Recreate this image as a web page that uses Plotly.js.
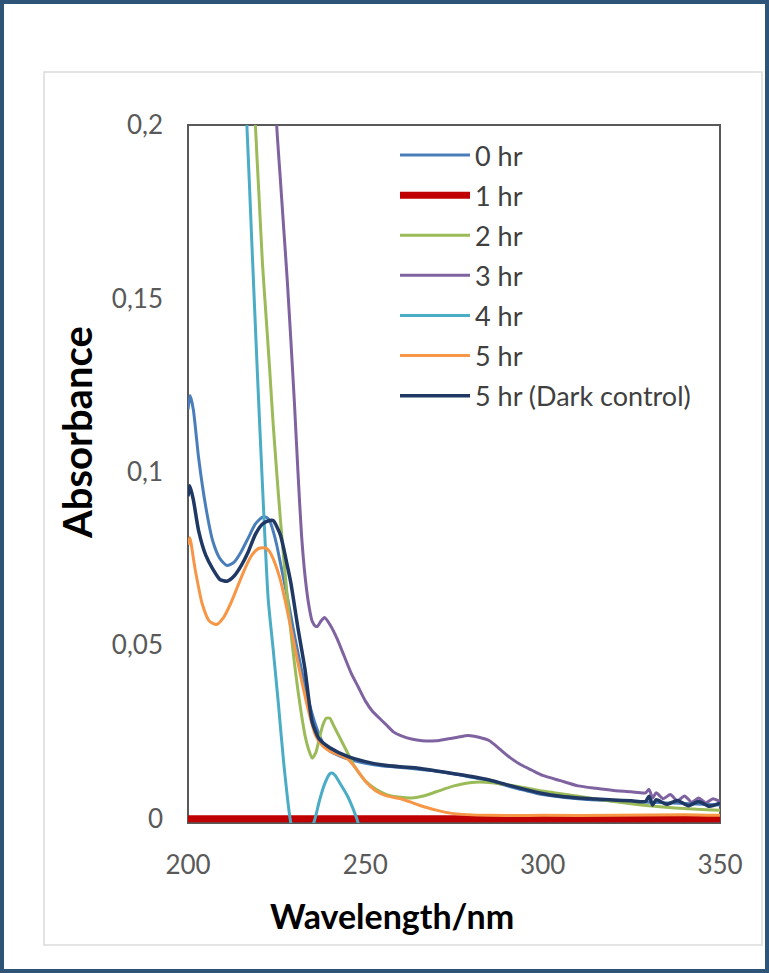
<!DOCTYPE html>
<html>
<head>
<meta charset="utf-8">
<script src="https://cdn.plot.ly/plotly-3.0.1.min.js"></script>
<style>
html,body{margin:0;padding:0;background:#fff;}
#chart{width:769px;height:973px;}
</style>
</head>
<body>
<div id="chart"></div>
<script>
// ---- data ----
const seriesNames = ["0 hr", "1 hr", "2 hr", "3 hr", "4 hr", "5 hr", "5 hr (Dark control)"];

const wl0 = [200, 200.6, 201.5, 203, 205, 207, 209, 211, 213, 215, 217, 219, 221, 222, 223, 224, 225, 226, 228, 230, 232, 234, 236, 238, 240, 243, 246, 250, 255, 260, 265, 270, 275, 280, 285, 290, 295, 300, 310, 320, 330, 340, 350];
const abs0 = [0.118, 0.122, 0.118, 0.104, 0.09, 0.08, 0.075, 0.073, 0.074, 0.077, 0.081, 0.085, 0.087, 0.087, 0.086, 0.083, 0.079, 0.074, 0.064, 0.053, 0.043, 0.034, 0.027, 0.022, 0.0195, 0.018, 0.017, 0.016, 0.0152, 0.0148, 0.0143, 0.0138, 0.013, 0.012, 0.011, 0.0095, 0.0082, 0.007, 0.0058, 0.0052, 0.0048, 0.0044, 0.004];

const wl1 = [200, 225, 250, 275, 300, 325, 350];
const abs1 = [0, 0, 0, 0, 0, 0, 0];

const wl2 = [216, 218, 219, 220, 221, 222, 223, 224, 225, 226, 227, 228, 229, 230, 231, 232, 233, 234, 235, 236, 237, 238, 239, 240, 241, 243, 245, 247, 250, 253, 256, 260, 263, 266, 270, 275, 280, 285, 290, 295, 300, 310, 320, 330, 340, 350];
const abs2 = [0.3, 0.23, 0.2, 0.18, 0.16, 0.145, 0.13, 0.114, 0.1, 0.087, 0.075, 0.064, 0.054, 0.045, 0.037, 0.03, 0.024, 0.02, 0.0175, 0.019, 0.023, 0.027, 0.029, 0.029, 0.027, 0.023, 0.019, 0.015, 0.011, 0.0085, 0.007, 0.0062, 0.006, 0.0065, 0.0078, 0.0095, 0.0105, 0.0105, 0.0098, 0.009, 0.008, 0.0065, 0.005, 0.0038, 0.003, 0.0025];

const wl3 = [222, 224, 225, 226, 227, 228, 229, 230, 231, 232, 233, 234, 235, 236, 236.5, 237.5, 238.5, 240, 242, 244, 246, 248, 250, 252, 254, 256, 258, 260, 263, 266, 270, 273, 276, 279, 282, 285, 288, 291, 294, 297, 300, 305, 310, 315, 320, 325, 329, 330, 331, 332, 334, 336, 338, 340, 342, 344, 346, 348, 350];
const abs3 = [0.3, 0.23, 0.2, 0.185, 0.17, 0.155, 0.138, 0.12, 0.1, 0.082, 0.07, 0.062, 0.057, 0.0555, 0.0555, 0.057, 0.058, 0.056, 0.052, 0.047, 0.042, 0.038, 0.034, 0.031, 0.029, 0.027, 0.025, 0.024, 0.023, 0.0225, 0.0225, 0.023, 0.0235, 0.024, 0.0235, 0.0225, 0.02, 0.0175, 0.0155, 0.014, 0.0125, 0.011, 0.0095, 0.0088, 0.0082, 0.0078, 0.0075, 0.0085, 0.006, 0.0075, 0.0058, 0.007, 0.0052, 0.0066, 0.0048, 0.006, 0.0046, 0.0058, 0.005];

const wl4 = [214, 216.6, 218, 219.5, 221, 222.6, 224, 225.5, 227, 228.8, 230, 232, 234, 235.8, 237, 238.5, 240, 240.6, 241.5, 243, 245, 246.5, 247.6, 249, 252, 260, 280, 300, 320, 350];
const abs4 = [0.25, 0.2, 0.166, 0.13, 0.096, 0.0635, 0.049, 0.033, 0.016, 0, -0.006, -0.008, -0.005, 0, 0.005, 0.01, 0.013, 0.0132, 0.0125, 0.01, 0.0065, 0.003, 0, -0.004, -0.006, -0.006, -0.006, -0.006, -0.006, -0.006];

const wl5 = [200, 200.5, 202, 204, 206, 208, 210, 212, 214, 216, 218, 220, 222, 223, 224, 226, 228, 230, 232, 234, 236, 238, 240, 243, 245, 247, 250, 253, 256, 260, 265, 270, 275, 285, 300, 320, 340, 350];
const abs5 = [0.079, 0.081, 0.072, 0.062, 0.057, 0.056, 0.058, 0.062, 0.067, 0.072, 0.076, 0.078, 0.078, 0.077, 0.075, 0.069, 0.06, 0.05, 0.04, 0.031, 0.024, 0.021, 0.0195, 0.0182, 0.0172, 0.015, 0.0108, 0.008, 0.0066, 0.0058, 0.004, 0.0025, 0.0015, 0.001, 0.001, 0.001, 0.0012, 0.001];

const wlD = [200, 200.5, 201.5, 203, 205, 207, 209, 211, 213, 215, 217, 219, 221, 223, 224, 226, 228, 229, 231, 233, 235, 237, 240, 245, 250, 255, 260, 265, 270, 275, 280, 285, 290, 295, 300, 305, 310, 315, 320, 325, 329, 330, 331, 332, 335, 338, 341, 344, 347, 350];
const absD = [0.093, 0.096, 0.092, 0.083, 0.076, 0.072, 0.069, 0.0685, 0.07, 0.073, 0.077, 0.082, 0.085, 0.086, 0.086, 0.082, 0.073, 0.068, 0.055, 0.043, 0.028, 0.023, 0.0205, 0.018, 0.0165, 0.0155, 0.015, 0.0146, 0.0138, 0.013, 0.0122, 0.0112, 0.0098, 0.0085, 0.0073, 0.0065, 0.006, 0.0057, 0.0054, 0.0052, 0.005, 0.0065, 0.004, 0.0055, 0.0042, 0.0053, 0.0038, 0.005, 0.0036, 0.0045];

const xTicks = [200, 250, 300, 350];
const yTicks = [0, 0.05, 0.1, 0.15, 0.2];
const yTickText = ["0", "0,05", "0,1", "0,15", "0,2"];

// ---- styling ----
const colors = ["#4a7ebb", "#c00000", "#9bbb59", "#7f63a1", "#4bacc6", "#f79646", "#1f3864"];
const widths = [3, 7, 3, 3, 3, 3, 3.5];
const xs = [wl0, wl1, wl2, wl3, wl4, wl5, wlD];
const ys = [abs0, abs1, abs2, abs3, abs4, abs5, absD];

const traces = seriesNames.map((n, i) => ({
  type: "scatter", mode: "lines", name: n,
  x: xs[i], y: ys[i],
  line: {color: colors[i], width: widths[i], shape: "spline", smoothing: 0.6},
  legendgroup: "g" + i
}));

// pixel helpers for paper coordinates
const L = 188, R = 720, T = 125, B = 823, W = 769, H = 973;
const px = v => (v - L) / (R - L);
const py = v => (B - v) / (B - T);

const layout = {
  width: W, height: H,
  margin: {l: L, r: W - R, t: T, b: H - B},
  paper_bgcolor: "#ffffff", plot_bgcolor: "#ffffff",
  font: {family: "Lato, 'Open Sans', sans-serif", color: "#595959"},
  showlegend: true,
  legend: {
    x: px(395), y: py(131), xanchor: "left", yanchor: "top",
    bgcolor: "rgba(0,0,0,0)", borderwidth: 0,
    font: {size: 27, color: "#404040"},
    traceorder: "grouped", tracegroupgap: 2, itemwidth: 70
  },
  xaxis: {
    range: [200, 350], tickvals: xTicks, ticktext: xTicks.map(String),
    showgrid: false, zeroline: false, showline: false, ticks: "",
    tickfont: {size: 26, color: "#595959"}, ticklabelstandoff: 24,
    layer: "below traces"
  },
  yaxis: {
    range: [-0.0012, 0.2], tickvals: yTicks, ticktext: yTickText,
    showgrid: false, zeroline: false, showline: false, ticks: "",
    tickfont: {size: 26, color: "#595959"}, ticklabelstandoff: 24,
    layer: "below traces"
  },
  shapes: [
    // plot frame
    {type: "rect", xref: "paper", yref: "paper", x0: 0, x1: 1, y0: 0, y1: 1,
     line: {color: "#595959", width: 2}, layer: "below"},
    // inner light panel
    {type: "rect", xref: "paper", yref: "paper", x0: px(44), x1: px(762), y0: py(945), y1: py(72),
     line: {color: "#dcdcdc", width: 1.5}, layer: "below"},
    // outer dark frame
    {type: "rect", xref: "paper", yref: "paper", x0: px(2), x1: px(767), y0: py(971), y1: py(2),
     line: {color: "#2e5478", width: 4}, layer: "above"}
  ],
  annotations: [
    {text: "<b>Absorbance</b>", textangle: -90, xref: "paper", yref: "paper",
     x: px(77), y: py(433), xanchor: "center", yanchor: "middle", showarrow: false,
     font: {size: 40, color: "#000000", family: "Lato, sans-serif"}},
    {text: "<b>Wavelength/nm</b>", xref: "paper", yref: "paper",
     x: px(392), y: py(915), xanchor: "center", yanchor: "middle", showarrow: false,
     font: {size: 34, color: "#000000", family: "Lato, sans-serif"}}
  ]
};

Plotly.newPlot("chart", traces, layout, {displayModeBar: false, staticPlot: true});
</script>
</body>
</html>
